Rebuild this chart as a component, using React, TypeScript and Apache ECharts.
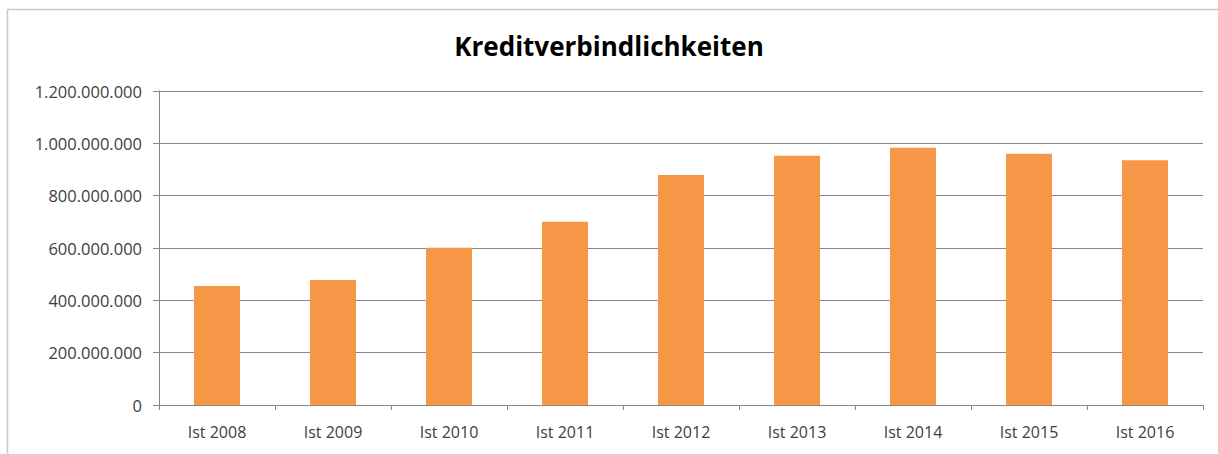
import React, { useEffect, useRef } from "react";
import * as echarts from "echarts";

const TITLE = "Kreditverbindlichkeiten";
const categories = ["Ist 2008", "Ist 2009", "Ist 2010", "Ist 2011", "Ist 2012", "Ist 2013", "Ist 2014", "Ist 2015", "Ist 2016"];
const values = [455000000, 478000000, 601000000, 700000000, 879000000, 953000000, 983000000, 960000000, 935000000];
const yMin = 0;
const yMax = 1200000000;
const yInterval = 200000000;

function fmtDE(v: number): string {
  const s = Math.round(v).toString();
  return s.replace(/\B(?=(\d{3})+(?!\d))/g, ".");
}

export default function App() {
  const ref = useRef<HTMLDivElement>(null);
  useEffect(() => {
    if (!ref.current) return;
    const chart = echarts.init(ref.current, null, { renderer: "svg" });
    const font = "Open Sans, Lato, sans-serif";
    chart.setOption({
      animation: false,
      backgroundColor: "#ffffff",
      title: {
        text: TITLE,
        left: "center",
        top: 28,
        textStyle: { fontFamily: font, fontSize: 26, fontWeight: "bold", color: "#000000" },
      },
      graphic: [
        {
          type: "polyline",
          shape: { points: [[7.5, 460], [7.5, 9.5], [1230, 9.5]] },
          style: { stroke: "#c8c8c8", lineWidth: 1.5, fill: "none" },
        },
      ],
      grid: { left: 159, right: 15, top: 91, bottom: 49, containLabel: false },
      xAxis: {
        type: "category",
        data: categories,
        axisLine: { show: true, lineStyle: { color: "#868686", width: 1 } },
        axisTick: { show: true, alignWithLabel: false, length: 5, lineStyle: { color: "#868686" } },
        axisLabel: { fontFamily: font, fontSize: 16, color: "#404040", margin: 19 },
      },
      yAxis: {
        type: "value",
        min: yMin,
        max: yMax,
        interval: yInterval,
        axisLine: { show: true, lineStyle: { color: "#868686", width: 1 } },
        axisTick: { show: true, length: 6, lineStyle: { color: "#868686" } },
        axisLabel: { fontFamily: font, fontSize: 16.5, color: "#404040", margin: 17, formatter: (v: number) => fmtDE(v) },
        splitLine: { show: true, lineStyle: { color: "#868686", width: 1 } },
      },
      series: [
        {
          type: "bar",
          data: values,
          barWidth: 46,
          itemStyle: { color: "#F79646" },
        },
      ],
    });
    return () => chart.dispose();
  }, []);
  return <div ref={ref} style={{ position: "fixed", left: 0, top: 0, width: 1218, height: 454 }} />;
}
